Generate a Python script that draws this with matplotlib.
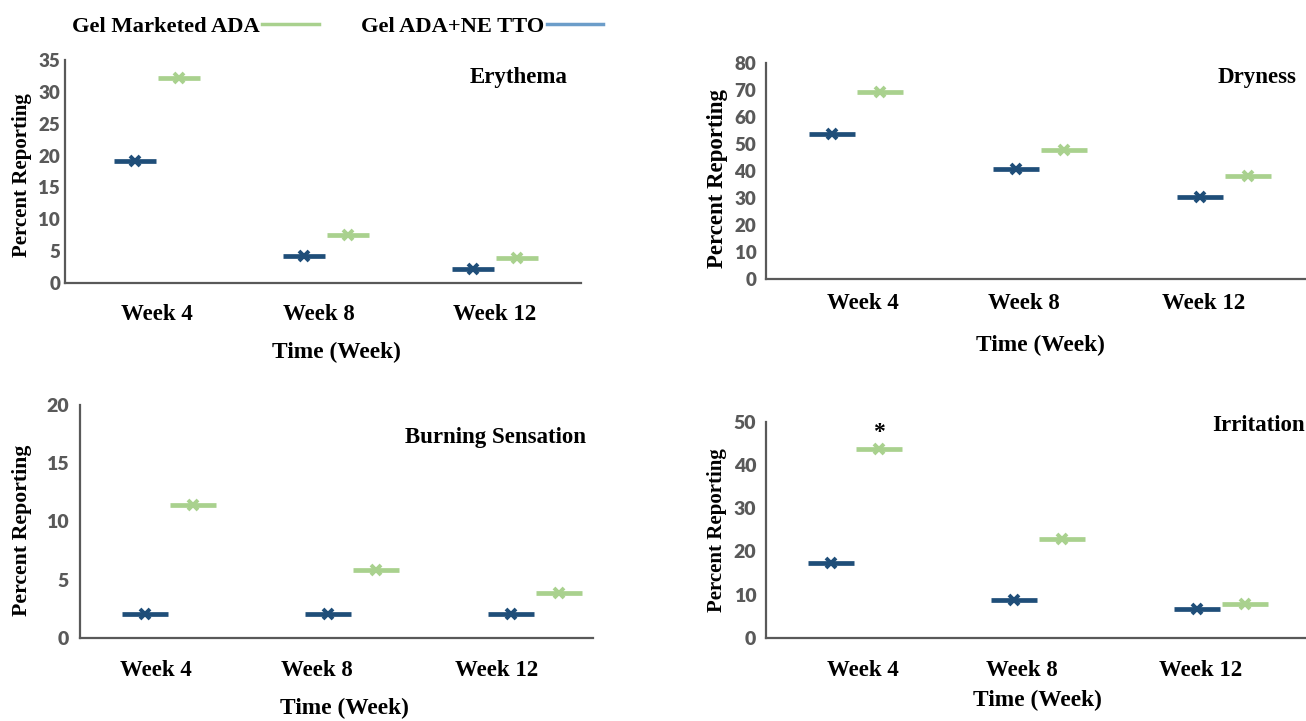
import matplotlib
matplotlib.use('Agg')
import matplotlib.pyplot as plt
from matplotlib.lines import Line2D
import numpy as np

# ---------------- data ----------------
weeks = ['Week 4', 'Week 8', 'Week 12']
series_names = ['Gel Marketed ADA', 'Gel ADA+NE TTO']

erythema_ne = [19.2, 4.3, 2.2]
erythema_mk = [32.2, 7.6, 3.9]
dryness_ne = [53.5, 40.8, 30.2]
dryness_mk = [69.3, 47.6, 38.0]
burning_ne = [2.1, 2.1, 2.1]
burning_mk = [11.4, 5.8, 3.9]
irritation_ne = [17.3, 8.8, 6.8]
irritation_mk = [43.8, 23.0, 7.8]
star_value = 47.5  # significance mark above Irritation week 4 (marketed)

# ---------------- style ----------------
W, H = 1306, 721
C_MK = '#A9D18E'
C_NE = '#1F4E79'
C_MK_LEG = '#A9D18E'
C_NE_LEG = '#6C9DC9'
GRAY = '#595959'
SERIF = ['Liberation Serif', 'DejaVu Serif']
SANS = ['Lato', 'DejaVu Sans']

fig = plt.figure(figsize=(W / 100, H / 100), dpi=100)


def px(l, t, r, b):
    return [l / W, 1 - b / H, (r - l) / W, (b - t) / H]


panels = [
    dict(title='Erythema', ne=erythema_ne, mk=erythema_mk,
         rect=px(65, 60, 581, 283), ylim=35, step=5, xlim=(-0.544, 2.509),
         lab=[0.0, 0.96, 2.0], tpad=15, ypad=3.5, yfs=13.5, ylfs=15,
         tpos=(568, 78), xl=(336, 352), yl=(22, 175)),
    dict(title='Dryness', ne=dryness_ne, mk=dryness_mk,
         rect=px(766, 62.7, 1306, 279), ylim=80, step=10, xlim=(-0.489, 2.446),
         lab=[0.04, 0.91, 1.89], tpad=10, ypad=7, yfs=13.5, ylfs=16.5,
         tpos=(1296, 78), xl=(1040, 345), yl=(717, 178)),
    dict(title='Burning Sensation', ne=burning_ne, mk=burning_mk,
         rect=px(80, 405, 593, 638), ylim=20, step=5, xlim=(-0.486, 2.317),
         lab=[-0.07, 0.81, 1.79], tpad=16, ypad=8, yfs=14, ylfs=15.7,
         tpos=(586, 438), xl=(344, 708), yl=(22, 530)),
    dict(title='Irritation', ne=irritation_ne, mk=irritation_mk,
         rect=px(766, 421.7, 1306, 638), ylim=50, step=10, xlim=(-0.487, 2.464),
         lab=[0.04, 0.91, 1.89], tpad=16, ypad=7, yfs=14, ylfs=15,
         tpos=(1305, 426), xl=(1037, 700), yl=(717, 530)),
]

off = 0.13
half = 0.125
x = np.arange(len(weeks))

axes = []
for p in panels:
    ax = fig.add_axes(p['rect'])
    axes.append(ax)
    ne = np.array(p['ne'])
    mk = np.array(p['mk'])
    ax.hlines(ne, x - off - half, x - off + half, color=C_NE, lw=3.4, zorder=2)
    ax.hlines(mk, x + off - half, x + off + half, color=C_MK, lw=3.4, zorder=2)
    ax.plot(x - off, ne, ls='none', marker='x', ms=7, mew=2.8, color=C_NE, zorder=3)
    ax.plot(x + off, mk, ls='none', marker='x', ms=7, mew=2.8, color=C_MK, zorder=3)
    ax.set_xlim(*p['xlim'])
    ax.set_ylim(0, p['ylim'])
    ax.set_yticks(np.arange(0, p['ylim'] + 0.1, p['step']))
    ax.set_xticks(p['lab'])
    ax.set_xticklabels(weeks, fontfamily=SERIF, fontweight='bold', fontsize=16.5, color='black')
    for lbl in ax.get_yticklabels():
        lbl.set_fontfamily(SANS)
        lbl.set_fontweight('heavy')
        lbl.set_fontsize(p['yfs'])
        lbl.set_color(GRAY)
    ax.tick_params(axis='x', length=0, pad=p['tpad'])
    ax.tick_params(axis='y', length=0, pad=p['ypad'])
    for s in ('top', 'right'):
        ax.spines[s].set_visible(False)
    for s in ('left', 'bottom'):
        ax.spines[s].set_color(GRAY)
        ax.spines[s].set_linewidth(1.6)
    ax.patch.set_alpha(0)

    fig.text(p['tpos'][0] / W, 1 - p['tpos'][1] / H, p['title'], ha='right', va='center',
             fontfamily=SERIF, fontweight='bold', fontsize=16.5)
    fig.text(p['xl'][0] / W, 1 - p['xl'][1] / H, 'Time (Week)', ha='center', va='center',
             fontfamily=SERIF, fontweight='bold', fontsize=16.8)
    fig.text(p['yl'][0] / W, 1 - p['yl'][1] / H, 'Percent Reporting', ha='center', va='center',
             rotation=90, fontfamily=SERIF, fontweight='bold', fontsize=p['ylfs'])

# significance star
axes[3].text(off, star_value, '*', ha='center', va='center', fontfamily=SERIF,
             fontweight='bold', fontsize=17)

# legend (text followed by line)
handles = [Line2D([], [], color=C_MK_LEG, lw=2.5), Line2D([], [], color=C_NE_LEG, lw=2.5)]
fig.legend(handles, series_names, loc='upper left', bbox_to_anchor=(52 / W, 1 + 4 / H),
           ncol=2, frameon=False, markerfirst=False, handlelength=2.5, handletextpad=0.1,
           columnspacing=1.9, prop=dict(family=SERIF, weight='bold', size=16.2))

fig.savefig('out.png', dpi=100)
